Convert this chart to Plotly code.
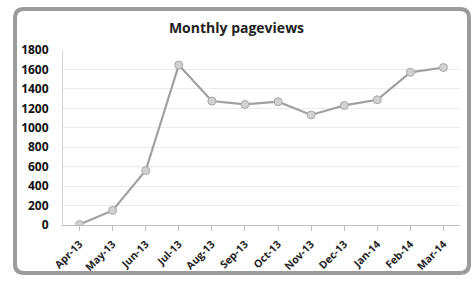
import plotly.graph_objects as go

months = ["Apr-13", "May-13", "Jun-13", "Jul-13", "Aug-13", "Sep-13",
          "Oct-13", "Nov-13", "Dec-13", "Jan-14", "Feb-14", "Mar-14"]
pageviews = [5, 150, 560, 1645, 1275, 1240, 1268, 1132, 1230, 1288, 1570, 1620]
y_ticks = [0, 200, 400, 600, 800, 1000, 1200, 1400, 1600, 1800]

W, H = 473, 282
L, R, T, B = 63, 13, 50, 57
pw, ph = W - L - R, H - T - B

def px_x(x):
    return (x - L) / pw

def px_y(y):
    return (H - B - y) / ph

x0, x1, y0, y1 = px_x(15), px_x(469), px_y(273), px_y(9)
rx, ry = 9 / pw, 9 / ph
path = (f"M {x0+rx},{y1} L {x1-rx},{y1} Q {x1},{y1} {x1},{y1-ry} "
        f"L {x1},{y0+ry} Q {x1},{y0} {x1-rx},{y0} L {x0+rx},{y0} "
        f"Q {x0},{y0} {x0},{y0+ry} L {x0},{y1-ry} Q {x0},{y1} {x0+rx},{y1} Z")

fig = go.Figure()
fig.add_trace(go.Scatter(
    x=months, y=pageviews, mode="lines+markers",
    line=dict(color="#a0a0a0", width=2.2),
    marker=dict(color="#d2d2d2", size=8, line=dict(color="#a8a8a8", width=1)),
    hoverinfo="x+y",
))

fig.update_layout(
    width=W, height=H,
    margin=dict(l=L, r=R, t=T, b=B, autoexpand=False),
    paper_bgcolor="white", plot_bgcolor="white",
    showlegend=False,
    title=dict(text="<b>Monthly pageviews</b>", x=0.5, xanchor="center",
               y=1 - 28 / H, yanchor="middle",
               font=dict(family="Open Sans, DejaVu Sans", size=14, color="#222")),
    font=dict(family="Open Sans, DejaVu Sans", color="#222"),
    shapes=[dict(type="path", xref="paper", yref="paper", path=path,
                 line=dict(color="#9b9b9b", width=4), fillcolor="rgba(0,0,0,0)",
                 layer="above")],
    xaxis=dict(
        type="category", tickangle=-45, range=[-0.5, 11.5], automargin=False,
        tickfont=dict(size=10.5, family="Open Sans, DejaVu Sans", color="#222", weight="bold"),
        showgrid=False, showline=True, linecolor="#bdbdbd", linewidth=1,
        ticks="outside", ticklen=5, tickcolor="#bdbdbd", ticklabelstandoff=3,
    ),
    yaxis=dict(
        range=[0, 1800], tickvals=y_ticks, automargin=False,
        tickfont=dict(size=12, family="Open Sans, DejaVu Sans", color="#111", weight="bold"),
        showgrid=True, gridcolor="#ebebeb", gridwidth=1,
        showline=True, linecolor="#d5d5d5", linewidth=1,
        zeroline=False, ticks="", ticklabelstandoff=11,
    ),
)

fig.write_html("out.html", config={"displayModeBar": False},
               post_script="document.body.style.margin='0';document.body.style.overflow='hidden';")
